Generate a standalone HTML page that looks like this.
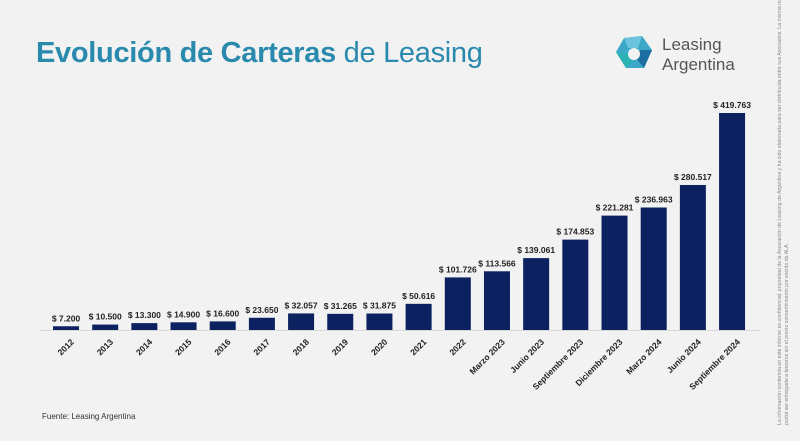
<!DOCTYPE html>
<html><head><meta charset="utf-8"><style>
body{margin:0;background:#f2f2f2;font-family:"Liberation Sans",sans-serif}
#wrap{position:relative;width:800px;height:441px;overflow:hidden;background:#f2f2f2}
</style></head><body>
<div id="wrap">
<div style="position:absolute;left:36px;top:37px;font-size:29px;color:#2a8aae;letter-spacing:-0.3px"><b>Evolución de Carteras</b> de Leasing</div>
<svg style="position:absolute;left:610px;top:30px" width="150" height="50">
<g transform="translate(24,22)">
<path d="M-10,-14 L8,-16 L18,-2 L10,16 L-8,16 L-18,0 Z" fill="#3ba8c8"/>
<path d="M-10,-14 L8,-16 L4,-4 L-6,-4 Z" fill="#6cc3dc"/>
<path d="M18,-2 L10,16 L2,6 L6,-2 Z" fill="#1b6fa0"/>
<path d="M-8,16 L-18,0 L-6,2 L-2,10 Z" fill="#2bb3b3"/>
<circle cx="0" cy="2" r="6" fill="#f2f2f2"/>
</g>
<text x="52" y="20" font-size="17" fill="#555">Leasing</text>
<text x="52" y="40" font-size="17" fill="#555">Argentina</text>
</svg>
<div style="position:absolute;left:777px;top:425px;width:1px;height:1px">
<div style="position:absolute;left:0;top:0;transform-origin:0 0;transform:rotate(-90deg);white-space:nowrap;font-size:5.2px;color:#888;line-height:7px">La información contenida en este informe es confidencial, propiedad de la Asociación de Leasing de Argentina y ha sido elaborada para ser distribuida entre sus Asociados. La misma no<br>podrá ser entregada a terceros sin el previo consentimiento por escrito de ALA.</div></div>
<div style="position:absolute;left:42px;top:412px;font-size:8px;color:#333">Fuente: Leasing Argentina</div>
<svg id="chart" style="position:absolute;left:0;top:0" width="800" height="441"></svg>
</div>
<script>
const categories=["2012","2013","2014","2015","2016","2017","2018","2019","2020","2021","2022","Marzo 2023","Junio 2023","Septiembre 2023","Diciembre 2023","Marzo 2024","Junio 2024","Septiembre 2024"];
const values=[7200,10500,13300,14900,16600,23650,32057,31265,31875,50616,101726,113566,139061,174853,221281,236963,280517,419763];
const valueLabels=["$ 7.200","$ 10.500","$ 13.300","$ 14.900","$ 16.600","$ 23.650","$ 32.057","$ 31.265","$ 31.875","$ 50.616","$ 101.726","$ 113.566","$ 139.061","$ 174.853","$ 221.281","$ 236.963","$ 280.517","$ 419.763"];
const NS="http://www.w3.org/2000/svg";
const svg=document.getElementById('chart');
const base=330,x0=53,step=39.18,bw=26,maxV=419763,maxH=217;
const xs=i=>x0+i*step;
const ys=v=>base-v/maxV*maxH;
function mk(t,a){const e=document.createElementNS(NS,t);for(const k in a)e.setAttribute(k,a[k]);svg.appendChild(e);return e;}
const ax=mk('line',{x1:40,x2:760,y1:base+0.5,y2:base+0.5,stroke:'#d8d8d8','stroke-width':1});


categories.forEach((c,i)=>{
  const x=xs(i),y=ys(values[i]);
  const r=mk('rect',{x:x,y:y,width:bw,height:base-y,fill:'#0b2160'});
  
  
  const t=mk('text',{x:x+bw/2,y:y-5,'text-anchor':'middle','font-size':'8.5','font-weight':'bold',fill:'#222'});
  t.textContent=valueLabels[i];
  
  
  const cx=x+bw/2+4,cy=base+8;
  const l=mk('text',{x:cx,y:cy,'text-anchor':'end','font-size':'8.5','font-weight':'bold',fill:'#222',transform:`rotate(-45 ${cx} ${cy})`,'dominant-baseline':'hanging'});
  l.textContent=c;
  
  
});
</script>
</body></html>
